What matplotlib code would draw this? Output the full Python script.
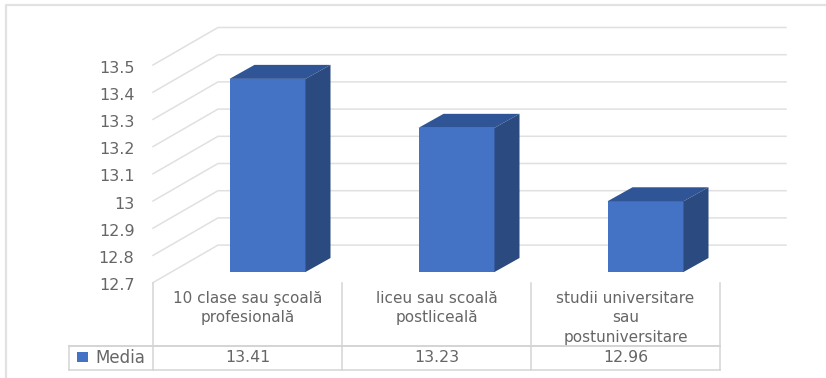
import matplotlib
matplotlib.use("Agg")
import matplotlib.pyplot as plt
from matplotlib.patches import Polygon, Rectangle

categories = ["10 clase sau şcoală\nprofesională", "liceu sau scoală\npostliceală", "studii universitare\nsau\npostuniversitare"]
values = [13.41, 13.23, 12.96]
value_labels = ["13.41", "13.23", "12.96"]
ticks = [12.7, 12.8, 12.9, 13, 13.1, 13.2, 13.3, 13.4, 13.5]
series_name = "Media"

W, H = 826, 378
X0, CELL = 153.0, 189.0
Y0, PX_PER_UNIT = 282.6, 272.0

FRONT = "#4472c4"
TOP = "#2f5597"
SIDE = "#2a4a80"
GRID = "#e0e0e0"
TABLE = "#d4d4d4"
BORDER = "#e2e2e2"
TEXT = "#666666"

plt.rcParams["font.family"] = ["DejaVu Sans"]
fig = plt.figure(figsize=(W / 100, H / 100), dpi=100)
ax = fig.add_axes([0, 0, 1, 1])
ax.set_xlim(-X0 / CELL, (W - X0) / CELL)
ax.set_ylim(12.7 - (H - Y0) / PX_PER_UNIT, 12.7 + Y0 / PX_PER_UNIT)
ax.axis("off")

# pixel sizes turned into data units
def dx(px):
    return px / CELL

def dy(px):
    return px / PX_PER_UNIT

# position helpers, from reference pixel to data
def px_x(px):
    return (px - X0) / CELL

def px_y(px):
    return 12.7 - (px - Y0) / PX_PER_UNIT

# outer frame of the screenshot
ax.plot([px_x(6), px_x(6), px_x(826)], [px_y(378), px_y(5), px_y(5)], color=BORDER, lw=1.6, zorder=1)

# walls
depth_x, depth_y = dx(65), dy(37.5)
right_end = px_x(786)
for t in ticks:
    ax.plot([0, depth_x, right_end], [t, t + depth_y, t + depth_y], color=GRID, lw=1.1, zorder=1)
    ax.text(px_x(134.5), t - dy(3.2), str(t), ha="right", va="center", fontsize=11.5, color=TEXT, zorder=5)

# bars
floor_y = 12.7 + dy(10.6)
shift_x = dx(20)
bar_w = dx(76)
bar_dx, bar_dy = dx(25), dy(14)
for i, v in enumerate(values):
    left = i + 0.5 + shift_x - bar_w / 2
    top = floor_y + (v - 12.7)
    right = left + bar_w
    ax.add_patch(Rectangle((left, floor_y), bar_w, top - floor_y, fc=FRONT, ec="none", zorder=3))
    ax.add_patch(Polygon([(left, top), (right, top), (right + bar_dx, top + bar_dy), (left + bar_dx, top + bar_dy)], fc=TOP, ec="none", zorder=3))
    ax.add_patch(Polygon([(right, floor_y), (right + bar_dx, floor_y + bar_dy), (right + bar_dx, top + bar_dy), (right, top)], fc=SIDE, ec="none", zorder=3))

# data table
row_top = px_y(346)
row_bottom = px_y(370)
table_left = px_x(69)
for i in range(len(categories) + 1):
    ax.plot([i, i], [12.7, row_bottom], color=TABLE, lw=1.1, zorder=2)
ax.plot([table_left, 3], [row_top, row_top], color=TABLE, lw=1.4, zorder=2)
ax.plot([table_left, 3], [row_bottom, row_bottom], color=TABLE, lw=1.1, zorder=2)
ax.plot([table_left, table_left], [row_top, row_bottom], color=TABLE, lw=1.1, zorder=2)

for i, (cat, lab) in enumerate(zip(categories, value_labels)):
    ax.text(i + 0.5, px_y(291), cat, ha="center", va="top", fontsize=11, color=TEXT, linespacing=1.36)
    ax.text(i + 0.5, (row_top + row_bottom) / 2, lab, ha="center", va="center", fontsize=11.3, color=TEXT)

ax.add_patch(Rectangle((px_x(77), px_y(362)), dx(11), dy(10), fc=FRONT, ec="none"))
ax.text(px_x(95), (row_top + row_bottom) / 2, series_name, ha="left", va="center", fontsize=12, color=TEXT)

fig.savefig("out.png", dpi=100)
